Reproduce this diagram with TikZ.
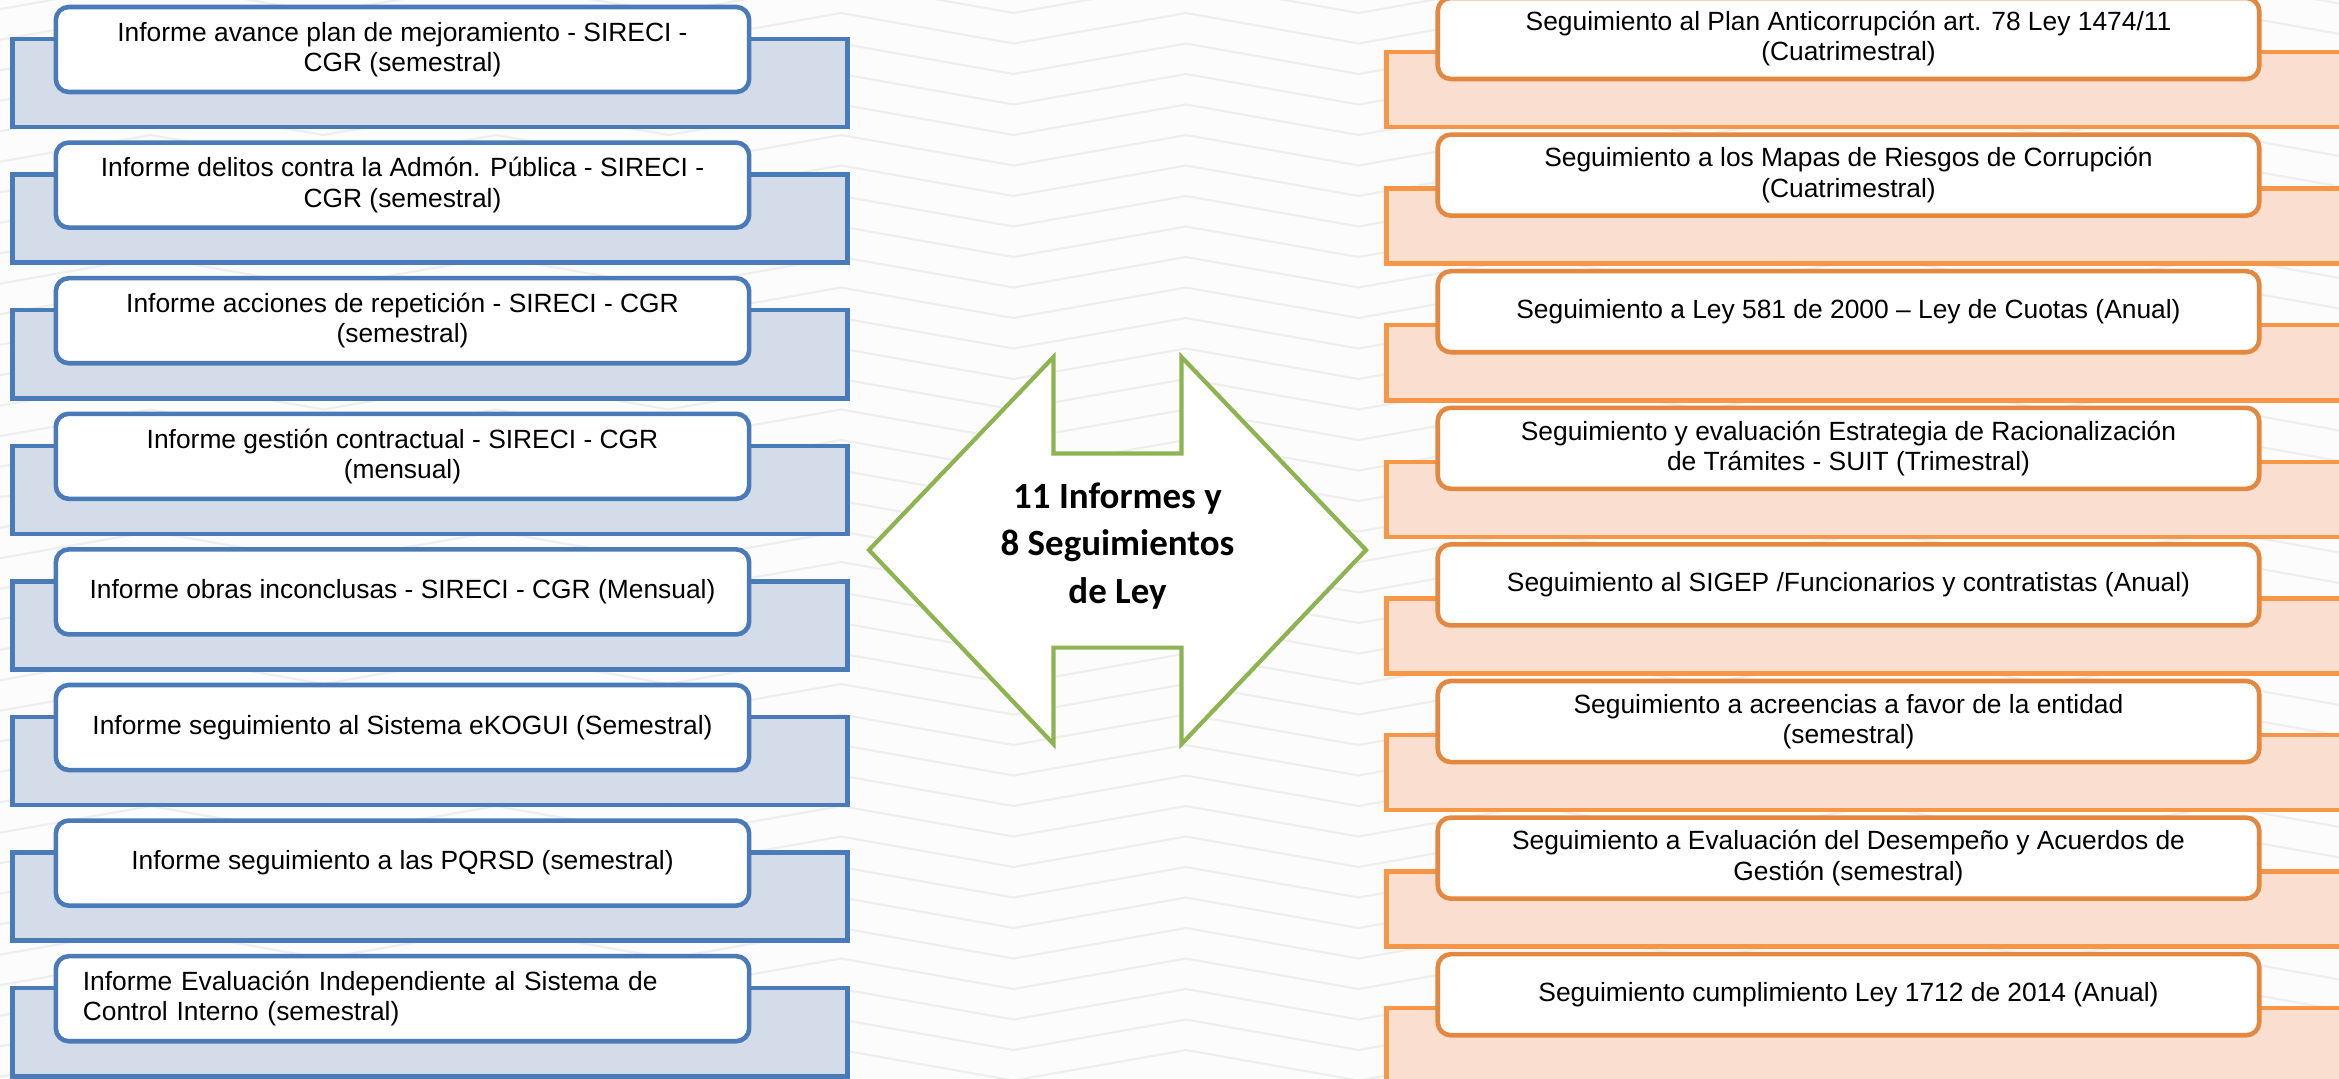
\documentclass[tikz,border=0pt]{standalone}
\usepackage{fontspec}
\setmainfont{Liberation Sans}
\newfontfamily\carlito{Carlito}
\usepackage{tikz}
\usetikzlibrary{arrows}
\definecolor{infblue}{RGB}{74,122,184}
\definecolor{infblueback}{RGB}{213,220,233}
\definecolor{segorange}{RGB}{247,150,70}
\definecolor{segorangedark}{RGB}{228,136,64}
\definecolor{segorangeback}{RGB}{250,222,208}
\definecolor{arrowgreen}{RGB}{141,180,80}
\definecolor{zigzag}{RGB}{238,238,238}
\definecolor{paper}{RGB}{252,252,252}
\tikzstyle{infback}=[rectangle, draw=infblue, fill=infblueback, line width=1.3pt, minimum width=8.34cm, minimum height=0.88cm]
\tikzstyle{infbox}=[rectangle, rounded corners=0.13cm, draw=infblue, fill=white, line width=1.3pt, minimum width=6.93cm, minimum height=0.85cm, align=center, font=\fontsize{7.5}{8.6}\selectfont]
\tikzstyle{segback}=[rectangle, draw=segorange, fill=segorangeback, line width=1.3pt, minimum width=9.73cm, minimum height=0.75cm]
\tikzstyle{segbox}=[infbox, draw=segorangedark, minimum width=8.21cm, minimum height=0.81cm]
\tikzstyle{zig}=[draw=zigzag, line width=0.6pt]

\begin{document}
\begin{tikzpicture}[x=0.01cm, y=-0.01cm]
    \useasboundingbox (0,0) rectangle (2339,1078);
    \fill[paper] (0,0) rectangle (2339,1078);
    % background zigzag
    \foreach \k in {-1,...,36}
      \foreach \m in {-1,...,6}
        \draw[zig] (151+345*\m, 13+30.5*\k) -- ++(172.5,30.5) -- ++(172.5,-30.5);
    % informes
    \foreach \i/\txt in 
      {0/{Informe avance plan de mejoramiento - SIRECI -\\CGR (semestral)},
       1/{Informe delitos contra la Admón. Pública - SIRECI -\\CGR (semestral)},
       2/{Informe acciones de repetición - SIRECI - CGR\\(semestral)},
       3/{Informe gestión contractual - SIRECI - CGR\\(mensual)},
       4/{Informe obras inconclusas - SIRECI - CGR (Mensual)},
       5/{Informe seguimiento al Sistema eKOGUI (Semestral)},
       6/{Informe seguimiento a las PQRSD (semestral)}}
    {
    \node[infback] (infb\i) at (430, 83+135.6*\i) {};
    \node[infbox] (inf\i) at (402.5, 49.5+135.6*\i) {\txt};
    }
    \node[infback] (infb7) at (430, 83+135.6*7) {};
    \node[infbox, align=left, text width=6.39cm, inner xsep=0.27cm] (inf7) at (402.5, 49.5+135.6*7) {Informe Evaluación Independiente al Sistema de\\Control Interno (semestral)};
    % seguimientos
    \foreach \i/\txt in 
      {0/{Seguimiento al Plan Anticorrupción art. 78 Ley 1474/11\\(Cuatrimestral)},
       1/{Seguimiento a los Mapas de Riesgos de Corrupción\\(Cuatrimestral)},
       2/{Seguimiento a Ley 581 de 2000 – Ley de Cuotas (Anual)},
       3/{Seguimiento y evaluación Estrategia de Racionalización\\de Trámites - SUIT (Trimestral)},
       4/{Seguimiento al SIGEP /Funcionarios y contratistas (Anual)},
       5/{Seguimiento a acreencias a favor de la entidad\\(semestral)},
       6/{Seguimiento a Evaluación del Desempeño y Acuerdos de\\Gestión (semestral)},
       7/{Seguimiento cumplimiento Ley 1712 de 2014 (Anual)}}
    {
    \node[segback] (segb\i) at (1873.5, 89.5+136.6*\i) {};
    \node[segbox] (seg\i) at (1848.5, 38.5+136.6*\i) {\txt};
    }
    % double arrow
    \draw[arrowgreen, fill=white, line width=1.2pt] (869,550) -- (1053.5,357) -- (1053.5,453.5) -- (1181.5,453.5) -- (1181.5,357) -- (1366,550) -- (1181.5,744) -- (1181.5,647.6) -- (1053.5,647.6) -- (1053.5,744) -- cycle;
    \node[font=\carlito\bfseries\fontsize{10.5}{13.6}\selectfont, align=center] (arrow) at (1117.5,546) {11 Informes y\\8 Seguimientos\\de Ley};
\end{tikzpicture}
\end{document}
